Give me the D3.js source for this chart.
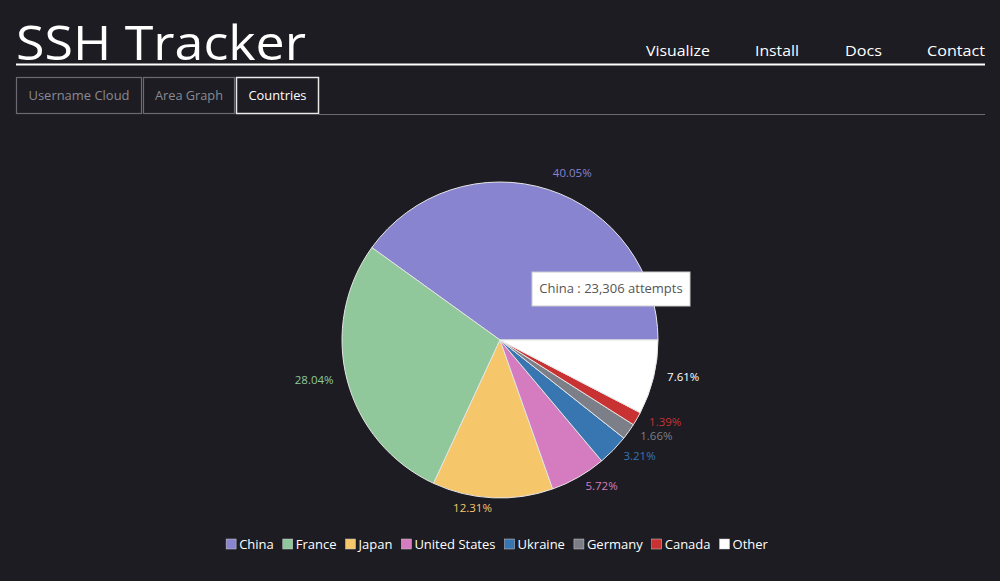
<!DOCTYPE html>
<html><head><meta charset="utf-8">
<script src="https://cdn.jsdelivr.net/npm/d3@7"></script>
<style>
html,body{margin:0;padding:0;background:#1c1c22;overflow:hidden}
text{font-family:"Open Sans","Noto Sans",sans-serif}
</style></head>
<body>
<svg id="c" width="1000" height="581"></svg>
<script>
const countries = ["China","France","Japan","United States","Ukraine","Germany","Canada","Other"];
const attempts  = [23306,16317,7163,3329,1868,966,809,4428];
const colors    = ["#8884d0","#90c89c","#f6c66a","#d47cbf","#3776b0","#7d7f88","#c83232","#ffffff"];
const navLinks  = ["Visualize","Install","Docs","Contact"];
const tabs      = ["Username Cloud","Area Graph","Countries"];
const tooltipIndex = 0;

const svg = d3.select("#c");
svg.append("rect").attr("width",1000).attr("height",581).attr("fill","#1c1c22");

// Header
svg.append("text").attr("x",16).attr("y",60).attr("fill","#fff")
  .attr("font-size",48).attr("textLength",290).attr("lengthAdjust","spacingAndGlyphs")
  .text("SSH Tracker");
svg.append("line").attr("x1",16).attr("x2",985).attr("y1",64.5).attr("y2",64.5)
  .attr("stroke","#fff").attr("stroke-width",2);
const navX = [[646,710],[755,799],[845,882],[927,985]];
navLinks.forEach((n,i)=>{
  svg.append("text").attr("x",navX[i][0]).attr("y",56).attr("fill","#fff")
    .attr("font-size",15).attr("font-weight",500)
    .attr("textLength",navX[i][1]-navX[i][0]).attr("lengthAdjust","spacingAndGlyphs").text(n);
});

// Tabs
const tabX = [[16,142],[143,235],[236,319]];
const tabTextW = [101,68,58];
tabs.forEach((t,i)=>{
  const active = i===2;
  svg.append("rect").attr("x",tabX[i][0]+0.5).attr("y",77.5)
    .attr("width",tabX[i][1]-tabX[i][0]-1).attr("height",36)
    .attr("fill","#1c1c22").attr("stroke",active?"#e8e8e8":"#6a6a72").attr("stroke-width",active?1.5:1.2);
  svg.append("text").attr("x",(tabX[i][0]+tabX[i][1])/2).attr("y",100)
    .attr("text-anchor","middle").attr("font-size",13)
    .attr("fill",active?"#fff":"#8a8a92")
    .attr("textLength",tabTextW[i]).attr("lengthAdjust","spacingAndGlyphs").text(t);
});
svg.append("line").attr("x1",319).attr("x2",985).attr("y1",114.5).attr("y2",114.5)
  .attr("stroke","#6a6a72").attr("stroke-width",1);

// Pie
const cx=500, cy=340, R=158, LR=172;
const total = d3.sum(attempts);
const data = countries.map((c,i)=>({name:c,value:attempts[i],color:colors[i]}));
const pie = d3.pie().value(d=>d.value).sort(null).startAngle(Math.PI/2).endAngle(-3*Math.PI/2);
const arcs = pie(data);
const arc = d3.arc().innerRadius(0).outerRadius(R);
const labelArc = d3.arc().innerRadius(LR).outerRadius(LR);
const g = svg.append("g").attr("transform",`translate(${cx},${cy})`);
g.selectAll("path").data(arcs).join("path")
  .attr("d",arc).attr("fill",d=>d.data.color)
  .attr("stroke","#e6e6e6").attr("stroke-width",1);
g.selectAll("text.lbl").data(arcs).join("text").attr("class","lbl")
  .attr("transform",d=>`translate(${labelArc.centroid(d)})`)
  .attr("dy","0.05em")
  .attr("text-anchor",d=>labelArc.centroid(d)[0]>=0?"start":"end")
  .attr("font-size",11.5).attr("fill",d=>d.data.color)
  .text(d=>(d.data.value/total*100).toFixed(2)+"%");

// Tooltip
const tt = svg.append("g");
tt.append("rect").attr("x",532).attr("y",272).attr("width",158).attr("height",34)
  .attr("fill","#fff").attr("stroke","#cccccc");
tt.append("text").attr("x",611).attr("y",293).attr("text-anchor","middle")
  .attr("font-size",13).attr("fill","#555")
  .text(`${countries[tooltipIndex]} : ${d3.format(",")(attempts[tooltipIndex])} attempts`);

// Legend
const lg = svg.append("g");
let x = 0;
data.forEach((d,i)=>{
  const it = lg.append("g");
  it.append("rect").attr("x",0).attr("y",-5).attr("width",10).attr("height",10)
    .attr("fill",d.color).attr("stroke","#ccc").attr("stroke-width",0.5);
  const t = it.append("text").attr("x",13).attr("y",4.5).attr("font-size",13).attr("fill","#fff").text(d.name);
  const w = 13 + t.node().getComputedTextLength();
  it.attr("transform",`translate(${x},544)`);
  x += w + 9;
});
const lw = x - 9;
lg.attr("transform",`translate(${497 - lw/2},0)`);
</script>
</body></html>
